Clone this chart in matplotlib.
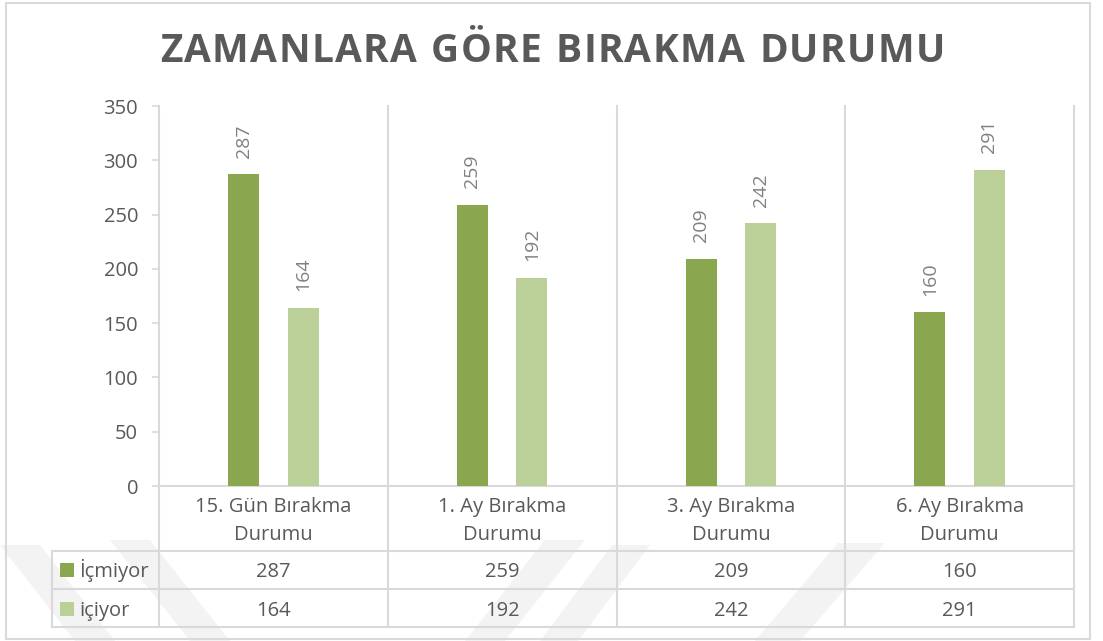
import numpy as np
import matplotlib
matplotlib.use('Agg')
import matplotlib.pyplot as plt
from matplotlib.lines import Line2D
from matplotlib.patches import Polygon, Rectangle
from matplotlib import transforms

# Data
categories = ['15. Gün Bırakma\nDurumu', '1. Ay Bırakma\nDurumu',
              '3. Ay Bırakma\nDurumu', '6. Ay Bırakma\nDurumu']
series_names = ['İçmiyor', 'içiyor']
icmiyor = [287, 259, 209, 160]
iciyor = [164, 192, 242, 291]
yticks = [0, 50, 100, 150, 200, 250, 300, 350]
title = 'ZAMANLARA GÖRE BIRAKMA DURUMU'

dark = '#8aa64f'
light = '#bbcf98'
gridc = '#d9d9d9'
textc = '#595959'
labelc = '#808080'
font = 'Open Sans'

W, H = 1103, 641
def fx(x):
    return x / W
def fy(y):
    return 1 - y / H

fig = plt.figure(figsize=(W / 100, H / 100), dpi=100)
fig.patch.set_facecolor('white')

# faint watermark stripes near the bottom
bands = [
    [(0, 545), (40, 545), (115, 641), (75, 641)],
    [(110, 540), (150, 540), (230, 641), (190, 641)],
    [(545, 540), (585, 540), (505, 641), (465, 641)],
    [(612, 545), (650, 545), (578, 641), (540, 641)],
    [(838, 543), (885, 543), (800, 641), (755, 641)],
]
for b in bands:
    fig.patches.append(Polygon([(fx(x), fy(y)) for x, y in b], closed=True,
                               transform=fig.transFigure, facecolor='#f3f3f3',
                               edgecolor='none', zorder=-5))

# outer chart border
fig.patches.append(Rectangle((fx(6), fy(639)), (1090 - 6) / W, (639 - 3) / H,
                             transform=fig.transFigure, fill=False,
                             edgecolor=gridc, linewidth=1.5))

ax = fig.add_axes([fx(159), fy(486), (1074 - 159) / W, (486 - 106) / H])
ax.patch.set_alpha(0)

x = np.arange(len(categories))
off, bw = 0.13, 0.136
b1 = ax.bar(x - off, icmiyor, bw, color=dark, zorder=3)
b2 = ax.bar(x + off, iciyor, bw, color=light, zorder=3)
for bars, vals in [(b1, icmiyor), (b2, iciyor)]:
    for r, v in zip(bars, vals):
        ax.annotate(str(v), (r.get_x() + r.get_width() / 2, v), xytext=(0, 12),
                    textcoords='offset points', rotation=90, ha='center',
                    va='bottom', fontsize=14, color=labelc, family=font)

ax.set_xlim(-0.5, len(categories) - 0.5)
ax.set_ylim(0, 350)
ax.set_yticks(yticks)
ax.set_xticks([])
for s in ['top', 'right']:
    ax.spines[s].set_visible(False)
ax.spines['left'].set_color(gridc)
ax.spines['left'].set_linewidth(1.5)
ax.spines['bottom'].set_color(gridc)
ax.spines['bottom'].set_linewidth(1.5)
ax.tick_params(axis='y', length=5, width=1.2, color=gridc, labelcolor=textc,
               labelsize=14.5, pad=10)
for t in ax.get_yticklabels():
    t.set_family(font)

# vertical dividers through plot and table
bt = transforms.blended_transform_factory(ax.transData, fig.transFigure)
for xb in np.arange(len(categories) + 1) - 0.5:
    top = fy(106) if xb > -0.5 else fy(486)
    fig.add_artist(Line2D([xb, xb], [top, fy(627)], transform=bt,
                          color=gridc, linewidth=1.5))
fig.add_artist(Line2D([fx(52), fx(52)], [fy(551), fy(627)],
                      transform=fig.transFigure, color=gridc, linewidth=1.5))
for yy in [551, 589, 627]:
    fig.add_artist(Line2D([fx(52), fx(1074)], [fy(yy), fy(yy)],
                          transform=fig.transFigure, color=gridc, linewidth=1.5))

# category labels
for i, c in enumerate(categories):
    for j, line in enumerate(c.split('\n')):
        fig.text(i, fy(512 + 28 * j), line, transform=bt, ha='center',
                 va='baseline', fontsize=14.5, color=textc, family=font)

# table rows
for k, (name, vals, col) in enumerate([(series_names[0], icmiyor, dark),
                                       (series_names[1], iciyor, light)]):
    base = 577 + 39 * k
    fig.patches.append(Rectangle((fx(60), fy(base)), 14 / W, 14 / H,
                                 transform=fig.transFigure, facecolor=col,
                                 edgecolor='none'))
    fig.text(fx(79), fy(base), name, ha='left', va='baseline', fontsize=14.5,
             color=textc, family=font)
    for i, v in enumerate(vals):
        fig.text(i, fy(base), str(v), transform=bt, ha='center',
                 va='baseline', fontsize=14.5, color=textc, family=font)

# spaced title
renderer = fig.canvas.get_renderer()
widths = []
for ch in title:
    t = fig.text(0, 0, ch if ch != ' ' else 'I', fontsize=28, weight='bold',
                 family=font)
    w = t.get_window_extent(renderer).width
    if ch == ' ':
        w *= 0.9
    widths.append(w)
    t.remove()
total = 945 - 160
gap = (total - sum(widths)) / (len(title) - 1)
xpos = 160
for ch, w in zip(title, widths):
    if ch != ' ':
        fig.text(fx(xpos), fy(62), ch, fontsize=28, weight='bold', color=textc,
                 family=font, ha='left', va='baseline')
    xpos += w + gap

fig.savefig('out.png', dpi=100)
